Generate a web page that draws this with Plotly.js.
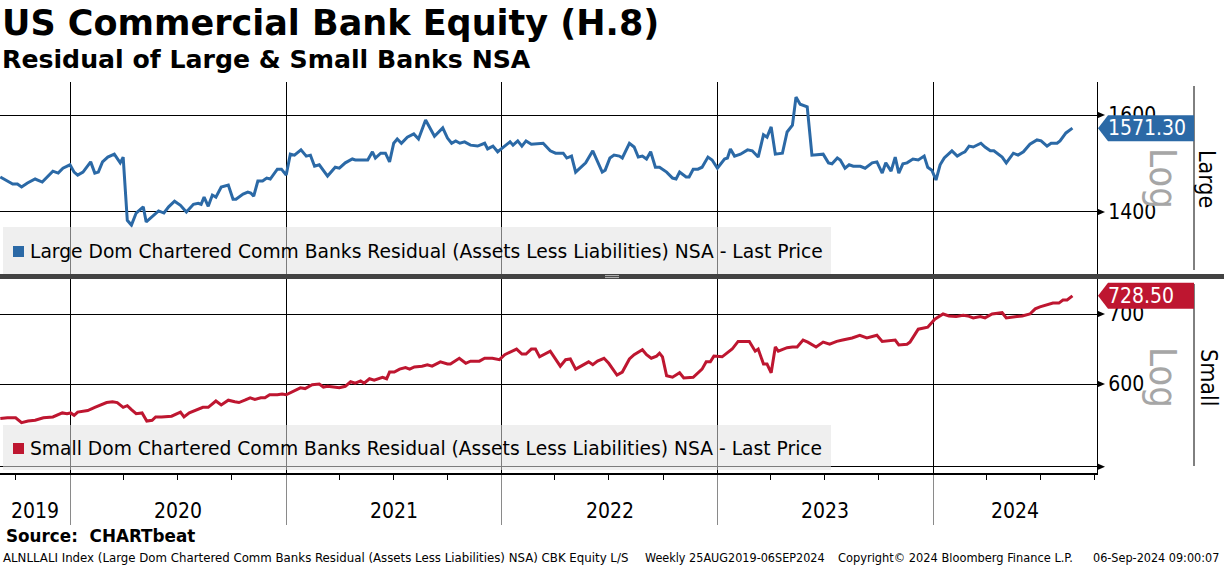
<!DOCTYPE html>
<html><head><meta charset="utf-8">
<script src="https://cdn.plot.ly/plotly-3.0.1.min.js"></script>
<style>html,body{margin:0;padding:0;background:#fff;}#chart{width:1224px;height:566px;}</style>
</head><body><div id="chart"></div>
<script>
// ---------------- DATA ----------------
const LARGE_DATES = ['2019-09-05','2019-09-26','2019-10-04','2019-10-11','2019-10-21','2019-11-03','2019-11-15','2019-11-23','2019-12-03','2019-12-12','2019-12-20',
'2020-01-01','2020-01-08','2020-01-14','2020-01-23','2020-02-05','2020-02-12','2020-02-18','2020-02-25','2020-03-05','2020-03-16','2020-03-26','2020-03-31','2020-04-07','2020-04-14','2020-04-22','2020-05-04','2020-05-09','2020-05-20','2020-05-30','2020-06-08','2020-06-16','2020-06-26','2020-07-06','2020-07-16','2020-07-28','2020-08-05','2020-08-10','2020-08-15','2020-08-22','2020-08-29','2020-09-04','2020-09-13','2020-09-25','2020-10-03','2020-10-08','2020-10-20','2020-10-28','2020-11-02','2020-11-07','2020-11-14','2020-11-22','2020-11-29','2020-12-05','2020-12-17','2020-12-24',
'2021-01-01','2021-01-08','2021-01-15','2021-01-26','2021-02-04','2021-02-11','2021-02-18','2021-02-26','2021-03-12','2021-03-25','2021-04-01','2021-04-11','2021-04-23','2021-04-28','2021-05-19','2021-05-27','2021-06-01','2021-06-10','2021-06-18','2021-06-25','2021-07-02','2021-07-08','2021-07-15','2021-07-25','2021-08-05','2021-08-13','2021-08-25','2021-09-01','2021-09-09','2021-09-23','2021-10-01','2021-10-08','2021-10-15','2021-10-22','2021-10-30','2021-11-09','2021-11-21','2021-12-03','2021-12-08','2021-12-17','2021-12-25','2021-12-31',
'2022-01-15','2022-01-20','2022-01-28','2022-02-04','2022-02-11','2022-02-20','2022-03-04','2022-03-12','2022-03-24','2022-04-02','2022-04-15','2022-04-21','2022-04-29','2022-05-06','2022-05-23','2022-06-04','2022-06-20','2022-06-25','2022-07-03','2022-07-10','2022-07-19','2022-07-24','2022-08-05','2022-08-13','2022-08-20','2022-08-27','2022-09-03','2022-09-10','2022-09-18','2022-09-25','2022-10-07','2022-10-17','2022-10-23','2022-10-29','2022-11-09','2022-11-14','2022-11-21','2022-11-29','2022-12-06','2022-12-16','2022-12-23',
'2023-01-01','2023-01-13','2023-01-18','2023-01-23','2023-01-30','2023-02-09','2023-02-21','2023-03-01','2023-03-11','2023-03-20','2023-03-26','2023-04-02','2023-04-09','2023-04-21','2023-04-29','2023-05-08','2023-05-14','2023-05-21','2023-06-02','2023-06-10','2023-06-29','2023-07-08','2023-07-14','2023-07-23','2023-07-28','2023-08-05','2023-08-12','2023-08-19','2023-08-31','2023-09-08','2023-09-20','2023-09-28','2023-10-07','2023-10-13','2023-10-22','2023-10-29','2023-11-04','2023-11-11','2023-11-18','2023-11-28','2023-12-07','2023-12-17','2023-12-23','2023-12-30',
'2024-01-06','2024-01-13','2024-01-20','2024-02-02','2024-02-11','2024-02-19','2024-02-24','2024-03-02','2024-03-09','2024-03-22','2024-03-29','2024-04-07','2024-04-13','2024-04-27','2024-05-04','2024-05-16','2024-05-24','2024-06-02','2024-06-13','2024-06-25','2024-07-02','2024-07-12','2024-07-19','2024-07-29','2024-08-03','2024-08-13','2024-08-24'];
const LARGE_VALUES = [1469,1455,1455,1449,1457,1465,1459,1469,1481,1477,1487,
1494,1479,1473,1479,1500,1477,1479,1500,1510,1516,1498,1510,1384,1375,1398,1410,1381,1392,1402,1398,1410,1421,1413,1400,1415,1417,1415,1429,1411,1433,1429,1449,1453,1425,1425,1435,1439,1437,1431,1461,1461,1467,1465,1485,1485,
1473,1516,1514,1525,1512,1514,1491,1494,1471,1489,1487,1498,1506,1504,1504,1521,1508,1518,1518,1500,1539,1548,1539,1552,1559,1548,1589,1574,1554,1572,1550,1539,1544,1539,1542,1535,1533,1539,1527,1533,1521,1527,
1542,1535,1544,1533,1544,1537,1539,1539,1523,1518,1518,1508,1512,1479,1498,1523,1479,1483,1508,1514,1512,1508,1539,1531,1510,1512,1506,1521,1489,1489,1479,1467,1465,1479,1469,1469,1485,1485,1489,1510,1504,
1487,1506,1508,1527,1512,1516,1525,1523,1510,1557,1552,1574,1516,1518,1563,1578,1640,1624,1618,1514,1516,1498,1496,1508,1504,1487,1494,1491,1491,1487,1498,1500,1477,1498,1481,1510,1477,1496,1498,1506,1504,1512,1489,1483,
1463,1494,1508,1523,1512,1518,1521,1533,1531,1539,1531,1523,1523,1510,1498,1518,1514,1521,1537,1546,1544,1533,1539,1539,1544,1561,1571.30];

const SMALL_DATES = ['2019-09-05','2019-09-17','2019-10-01','2019-10-11','2019-10-22','2019-11-03','2019-11-17','2019-12-03','2019-12-19','2019-12-27',
'2020-01-02','2020-01-08','2020-01-14','2020-01-31','2020-02-12','2020-02-24','2020-03-03','2020-03-13','2020-03-21','2020-03-31','2020-04-07','2020-04-14','2020-04-22','2020-05-02','2020-05-10','2020-05-19','2020-05-25','2020-06-04','2020-06-13','2020-06-21','2020-07-06','2020-07-12','2020-07-21','2020-08-02','2020-08-13','2020-08-22','2020-09-04','2020-09-13','2020-09-25','2020-10-06','2020-10-13','2020-10-23','2020-11-01','2020-11-09','2020-11-19','2020-11-26','2020-12-04','2020-12-17','2020-12-25',
'2021-01-01','2021-01-13','2021-01-25','2021-02-02','2021-02-14','2021-02-26','2021-03-05','2021-03-12','2021-03-24','2021-04-01','2021-04-11','2021-04-20','2021-04-28','2021-05-07','2021-05-13','2021-05-22','2021-05-30','2021-06-08','2021-06-13','2021-06-20','2021-06-25','2021-07-03','2021-07-12','2021-07-22','2021-07-29','2021-08-06','2021-08-19','2021-08-28','2021-09-05','2021-09-19','2021-10-01','2021-10-06','2021-10-21','2021-11-01','2021-11-09','2021-11-24','2021-12-03','2021-12-16','2021-12-28',
'2022-01-06','2022-01-16','2022-01-26','2022-02-04','2022-02-11','2022-02-20','2022-02-27','2022-03-06','2022-03-24','2022-04-10','2022-04-19','2022-04-27','2022-05-06','2022-05-28','2022-06-04','2022-06-12','2022-06-23','2022-07-01','2022-07-15','2022-07-24','2022-08-05','2022-08-13','2022-08-27','2022-09-03','2022-09-11','2022-09-20','2022-09-25','2022-09-30','2022-10-07','2022-10-17','2022-10-29','2022-11-05','2022-11-21','2022-12-06','2022-12-13','2022-12-20','2022-12-26',
'2023-01-09','2023-01-26','2023-02-05','2023-02-24','2023-03-06','2023-03-11','2023-03-20','2023-03-26','2023-04-02','2023-04-09','2023-04-14','2023-04-29','2023-05-08','2023-05-16','2023-05-26','2023-06-03','2023-06-17','2023-06-29','2023-07-10','2023-07-22','2023-08-01','2023-08-17','2023-08-30','2023-09-11','2023-09-28','2023-10-07','2023-10-29','2023-11-04','2023-11-18','2023-11-23','2023-12-07','2023-12-23',
'2024-01-04','2024-01-18','2024-01-28','2024-02-09','2024-02-21','2024-02-29','2024-03-09','2024-03-21','2024-03-29','2024-04-10','2024-04-27','2024-05-04','2024-05-22','2024-05-31','2024-06-13','2024-06-22','2024-06-30','2024-07-12','2024-07-22','2024-08-01','2024-08-08','2024-08-15','2024-08-24'];
const SMALL_VALUES = [556,557,557,551,553,554,557,558,563,562,
563,560,564,566,570,573,576,577,576,570,572,567,562,563,553,554,558,558,559,559,564,558,563,567,570,570,578,573,579,577,576,579,582,580,582,582,586,586,587,
586,590,595,594,599,600,596,597,596,595,597,603,601,604,601,607,605,607,609,607,616,616,620,622,620,623,624,626,624,630,627,627,635,628,631,631,635,635,633,
640,644,648,641,641,648,648,637,645,624,633,634,620,630,626,631,635,628,612,616,634,640,647,640,635,638,642,637,611,609,615,608,609,620,630,630,638,
637,648,659,659,645,648,627,627,615,651,645,650,651,651,661,658,651,658,655,659,661,664,668,664,668,659,661,654,655,658,677,680,
692,700,697,696,698,697,694,696,694,700,702,694,696,697,700,708,711,714,717,717,722,722,728.50];

const YEAR_LABELS = ['2019','2020','2021','2022','2023','2024'];
const LARGE_TICKS = [1400, 1600];
const SMALL_TICKS = [500, 600, 700];
const SMALL_TICK_TEXT = ['', '600', '700'];
const LARGE_NAME = 'Large Dom Chartered Comm Banks Residual (Assets Less Liabilities) NSA - Last Price';
const SMALL_NAME = 'Small Dom Chartered Comm Banks Residual (Assets Less Liabilities) NSA - Last Price';
const TITLE = 'US Commercial Bank Equity (H.8)';
const SUBTITLE = 'Residual of Large &amp; Small Banks NSA';
const SOURCE = 'Source:\u00a0 CHARTbeat';
const FOOT_A = 'ALNLLALI Index (Large Dom Chartered Comm Banks Residual (Assets Less Liabilities) NSA) CBK Equity L/S';
const FOOT_B = 'Weekly 25AUG2019-06SEP2024';
const FOOT_C = 'Copyright\u00a9 2024 Bloomberg Finance L.P.';
const FOOT_D = '06-Sep-2024 09:00:07';

// ---------------- LAYOUT ----------------
const W = 1224, H = 566, ML = 0, MR = 127, MT = 82, MB = 93;
const PW = W - ML - MR, PH = H - MT - MB;
const px = x => (x - ML) / PW;
const py = y => (H - MB - y) / PH;
const BLUE = '#2b69a6', RED = '#be1630';
const FONT = '"DejaVu Sans Condensed", "DejaVu Sans", sans-serif';
const PLAIN = '"DejaVu Sans", sans-serif';
const X_RANGE_MS = [Date.UTC(2019, 8, 4, 12), Date.UTC(2024, 9, 4, 14)];
const fmt = ms => new Date(ms).toISOString().slice(0, 16).replace('T', ' ');

const yearStarts = YEAR_LABELS.slice(1).map(y => y + '-01-01');
const yearAnn = YEAR_LABELS.map(y => {
  const a = Math.max(Date.UTC(+y, 0, 1), X_RANGE_MS[0]);
  const b = Math.min(Date.UTC(+y + 1, 0, 1), X_RANGE_MS[1]);
  return {xref: 'x', yref: 'paper', x: fmt((a + b) / 2), y: py(511), text: y, showarrow: false,
    xanchor: 'center', yanchor: 'middle', font: {family: FONT, size: 21, color: '#000'}};
});

const lastL = LARGE_VALUES[LARGE_VALUES.length - 1];
const lastS = SMALL_VALUES[SMALL_VALUES.length - 1];

const traces = [
  {type: 'scatter', mode: 'lines', x: LARGE_DATES, y: LARGE_VALUES, xaxis: 'x', yaxis: 'y',
   line: {color: BLUE, width: 3}, hoverinfo: 'skip', name: LARGE_NAME},
  {type: 'scatter', mode: 'lines', x: SMALL_DATES, y: SMALL_VALUES, xaxis: 'x', yaxis: 'y2',
   line: {color: RED, width: 3}, hoverinfo: 'skip', name: SMALL_NAME}
];

const tagPath = 'M1,0 L11,13 L97,13 L97,-13 L11,-13 Z';
const arrowPath = 'M0,-3.5 L8,0 L0,3.5 Z';
const tickArrows = LARGE_TICKS.map(v => ({type: 'path', xref: 'paper', yref: 'y', xsizemode: 'pixel', ysizemode: 'pixel',
    xanchor: 1, yanchor: v, path: arrowPath, fillcolor: '#000', line: {width: 0}, layer: 'above'}))
  .concat(SMALL_TICKS.map(v => ({type: 'path', xref: 'paper', yref: 'y2', xsizemode: 'pixel', ysizemode: 'pixel',
    xanchor: 1, yanchor: v, path: arrowPath, fillcolor: '#000', line: {width: 0}, layer: 'above'})));

const shapes = [
  // divider between panels
  {type: 'rect', xref: 'paper', yref: 'paper', x0: 0, x1: W / PW, y0: py(279), y1: py(274), fillcolor: '#424242', line: {width: 0}, layer: 'above'},
  {type: 'line', xref: 'paper', yref: 'paper', x0: px(605), x1: px(619), y0: py(275.6), y1: py(275.6), line: {color: '#b8b8b8', width: 1}, layer: 'above'},
  {type: 'line', xref: 'paper', yref: 'paper', x0: px(605), x1: px(619), y0: py(277.6), y1: py(277.6), line: {color: '#b8b8b8', width: 1}, layer: 'above'},
  // legend panels
  {type: 'rect', xref: 'paper', yref: 'paper', x0: px(3), x1: px(831), y0: py(274), y1: py(227), fillcolor: 'rgba(226,226,226,0.55)', line: {width: 0}, layer: 'above'},
  {type: 'rect', xref: 'paper', yref: 'paper', x0: px(3), x1: px(831), y0: py(470), y1: py(425), fillcolor: 'rgba(226,226,226,0.55)', line: {width: 0}, layer: 'above'},
  {type: 'rect', xref: 'paper', yref: 'paper', x0: px(13), x1: px(24), y0: py(257), y1: py(246), fillcolor: BLUE, line: {width: 0}, layer: 'above'},
  {type: 'rect', xref: 'paper', yref: 'paper', x0: px(13), x1: px(24), y0: py(454), y1: py(443), fillcolor: RED, line: {width: 0}, layer: 'above'},
  // right-hand separators
  {type: 'line', xref: 'paper', yref: 'paper', x0: px(1194), x1: px(1194), y0: py(270), y1: py(86), line: {color: '#000', width: 1}, layer: 'above'},
  {type: 'line', xref: 'paper', yref: 'paper', x0: px(1194), x1: px(1194), y0: py(466), y1: py(284), line: {color: '#000', width: 1}, layer: 'above'},
  // last value tags
  {type: 'path', xref: 'paper', yref: 'y', xsizemode: 'pixel', ysizemode: 'pixel', xanchor: 1, yanchor: lastL,
   path: tagPath, fillcolor: BLUE, line: {width: 0}, layer: 'above'},
  {type: 'path', xref: 'paper', yref: 'y2', xsizemode: 'pixel', ysizemode: 'pixel', xanchor: 1, yanchor: lastS,
   path: tagPath, fillcolor: RED, line: {width: 0}, layer: 'above'}
].concat(tickArrows);

const ann = [
  {xref: 'paper', yref: 'paper', x: px(0), y: py(23.5), text: TITLE, showarrow: false, xanchor: 'left', yanchor: 'middle',
   font: {family: PLAIN, size: 35, weight: 700, color: '#000'}},
  {xref: 'paper', yref: 'paper', x: px(0), y: py(59.5), text: SUBTITLE, showarrow: false, xanchor: 'left', yanchor: 'middle',
   font: {family: PLAIN, size: 25.2, weight: 700, color: '#000'}},
  {xref: 'paper', yref: 'paper', x: px(28), y: py(251.7), text: LARGE_NAME, showarrow: false, xanchor: 'left', yanchor: 'middle',
   font: {family: PLAIN, size: 18.7, color: '#000'}},
  {xref: 'paper', yref: 'paper', x: px(28), y: py(448.7), text: SMALL_NAME, showarrow: false, xanchor: 'left', yanchor: 'middle',
   font: {family: PLAIN, size: 18.7, color: '#000'}},
  {xref: 'paper', yref: 'y', x: px(1106), y: Math.log10(lastL), text: lastL.toFixed(2), showarrow: false, xanchor: 'left', yanchor: 'middle',
   font: {family: FONT, size: 21, color: '#fff'}},
  {xref: 'paper', yref: 'y2', x: px(1106), y: Math.log10(lastS), text: lastS.toFixed(2), showarrow: false, xanchor: 'left', yanchor: 'middle',
   font: {family: FONT, size: 21, color: '#fff'}},
  {xref: 'paper', yref: 'paper', x: px(1163), y: py(178), text: 'Log', textangle: 90, showarrow: false, xanchor: 'center', yanchor: 'middle',
   font: {family: FONT, size: 38, color: '#a6a6a6'}},
  {xref: 'paper', yref: 'paper', x: px(1163), y: py(377), text: 'Log', textangle: 90, showarrow: false, xanchor: 'center', yanchor: 'middle',
   font: {family: FONT, size: 38, color: '#a6a6a6'}},
  {xref: 'paper', yref: 'paper', x: px(1207), y: py(179), text: 'Large', textangle: 90, showarrow: false, xanchor: 'center', yanchor: 'middle',
   font: {family: FONT, size: 23, color: '#000'}},
  {xref: 'paper', yref: 'paper', x: px(1209), y: py(377), text: 'Small', textangle: 90, showarrow: false, xanchor: 'center', yanchor: 'middle',
   font: {family: FONT, size: 23, color: '#000'}},
  {xref: 'paper', yref: 'paper', x: px(4), y: py(536.3), text: SOURCE, showarrow: false, xanchor: 'left', yanchor: 'middle',
   font: {family: PLAIN, size: 16.8, weight: 700, color: '#000'}},
  {xref: 'paper', yref: 'paper', x: px(1), y: py(557.2), text: FOOT_A, showarrow: false, xanchor: 'left', yanchor: 'middle',
   font: {family: FONT, size: 13.1, color: '#000'}},
  {xref: 'paper', yref: 'paper', x: px(643), y: py(557.2), text: FOOT_B, showarrow: false, xanchor: 'left', yanchor: 'middle',
   font: {family: FONT, size: 12.5, color: '#000'}},
  {xref: 'paper', yref: 'paper', x: px(836), y: py(557.2), text: FOOT_C, showarrow: false, xanchor: 'left', yanchor: 'middle',
   font: {family: FONT, size: 12.7, color: '#000'}},
  {xref: 'paper', yref: 'paper', x: px(1221), y: py(557.2), text: FOOT_D, showarrow: false, xanchor: 'right', yanchor: 'middle',
   font: {family: FONT, size: 12.5, color: '#000'}}
].concat(yearAnn);

const yCommon = {type: 'log', side: 'right', anchor: 'x', showline: true, linecolor: '#000', linewidth: 1,
  ticks: 'outside', ticklen: 6, tickwidth: 1, tickcolor: 'rgba(0,0,0,0)', showgrid: true, gridcolor: '#000', gridwidth: 1,
  zeroline: false, tickfont: {family: FONT, size: 21, color: '#000'}, fixedrange: true};

const layout = {
  width: W, height: H, margin: {l: ML, r: MR, t: MT, b: MB, autoexpand: false},
  paper_bgcolor: '#fff', plot_bgcolor: '#fff', showlegend: false,
  xaxis: {type: 'date', range: [fmt(X_RANGE_MS[0]), fmt(X_RANGE_MS[1])], anchor: 'y2',
    showline: true, linecolor: '#000', linewidth: 1.5,
    tickmode: 'array', tickvals: yearStarts, showticklabels: false,
    ticks: 'outside', ticklen: 50, tickwidth: 1, tickcolor: '#8a8a8a',
    showgrid: true, gridcolor: '#000', gridwidth: 1, zeroline: false, fixedrange: true,
    minor: {dtick: 'M3', tick0: '2020-01-01', ticks: 'outside', ticklen: 5, tickwidth: 1, tickcolor: '#000', showgrid: false}},
  yaxis: Object.assign({}, yCommon, {domain: [py(274), 1], range: [3.10905, 3.22386],
    tickmode: 'array', tickvals: LARGE_TICKS}),
  yaxis2: Object.assign({}, yCommon, {domain: [0, py(279)], range: [2.69306, 2.87856],
    tickmode: 'array', tickvals: SMALL_TICKS, ticktext: SMALL_TICK_TEXT}),
  shapes: shapes,
  annotations: ann
};

Plotly.newPlot('chart', traces, layout, {displayModeBar: false, staticPlot: true});
</script></body></html>
